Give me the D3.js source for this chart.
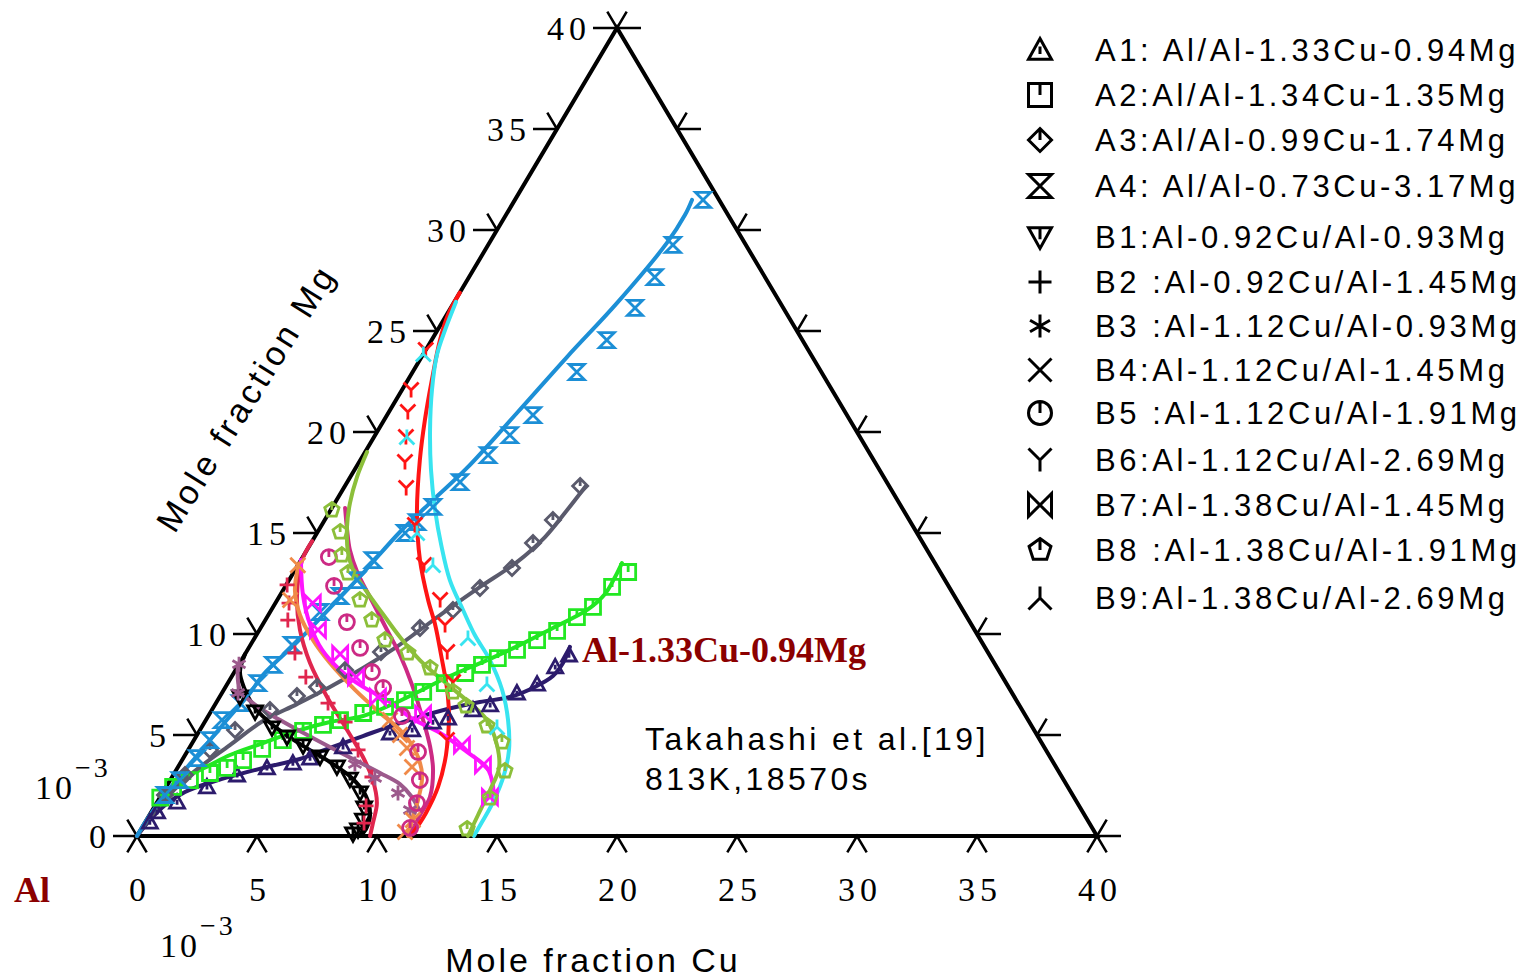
<!DOCTYPE html>
<html>
<head>
<meta charset="utf-8">
<script src="https://cdn.jsdelivr.net/npm/d3@7"></script>
<style>
  body { margin: 0; background: #fff; }
  svg { display: block; }
  .sans { font-family: "Liberation Sans", Arial, sans-serif; }
  .serif { font-family: "Liberation Serif", "Times New Roman", serif; }
</style>
</head>
<body>
<svg id="chart" width="1538" height="980"></svg>
<script>
// all values: mole fraction x 10^-3, [Cu, Mg]
const tickValues = [0, 5, 10, 15, 20, 25, 30, 35, 40];

const a1Line = [[0,0],[0.14,0.79],[0.40,1.53],[0.91,2.18],[1.89,2.72],[3.57,3.37],[4.88,3.81],[5.86,4.36],[6.94,4.95],[8.16,5.59],[9.53,6.19],[10.97,6.63],[12.10,6.88],[12.89,7.38],[13.37,7.92],[13.47,8.56],[13.36,9.36]];
const a1Pts = [[0.19,0.69],[0.24,1.19],[0.83,1.68],[1.70,2.43],[2.66,3.02],[3.73,3.37],[4.69,3.61],[5.28,3.86],[6.38,4.41],[7.99,5.10],[8.84,5.25],[9.51,5.64],[10.04,5.84],[10.88,6.24],[11.47,6.49],[12.29,7.08],[12.91,7.52],[13.24,8.37],[13.52,8.96]];

const a2Line = [[0.05,1.9],[0.19,2.38],[0.56,2.87],[1.28,3.51],[1.87,4.01],[2.95,4.60],[4.07,5.20],[5.22,5.64],[6.45,5.94],[7.46,6.58],[8.20,7.18],[9.08,7.92],[10.17,8.66],[11.23,9.46],[12.18,10.30],[13.16,11.19],[13.51,11.98],[13.51,12.82],[13.45,13.51]];
const a2Pts = [[0.02,1.9],[0.29,2.43],[0.82,2.77],[1.48,3.12],[2.07,3.37],[2.54,3.76],[3.06,4.31],[3.70,4.75],[4.32,5.20],[5.0,5.50],[5.59,5.74],[6.38,6.09],[7.14,6.39],[7.80,6.73],[8.36,7.13],[9.04,7.57],[9.64,8.07],[10.14,8.47],[10.63,8.81],[11.23,9.21],[11.82,9.70],[12.43,10.15],[12.91,10.84],[13.33,11.34],[13.63,12.33],[13.93,13.07]];

const a3Line = [[0,0],[0.19,1.53],[0.70,3.02],[1.62,4.50],[2.40,5.69],[3.40,6.53],[4.35,7.38],[5.26,8.32],[6.10,9.31],[6.69,10.20],[7.40,11.29],[8.13,12.33],[9.05,13.56],[9.60,14.80],[9.83,15.99],[10.03,17.28]];
const a3Pts = [[0.15,2.03],[0.49,3.02],[0.91,4.26],[1.46,5.25],[2.42,6.24],[3.20,6.93],[3.81,7.38],[4.56,8.22],[5.61,9.11],[6.64,10.30],[7.57,11.19],[8.15,12.28],[8.99,13.27],[9.25,14.50],[9.51,15.64],[9.80,17.33]];

const a4Line = [[0,0],[0.02,1.04],[0.19,2.38],[0.55,4.16],[0.85,5.64],[1.17,7.08],[1.26,7.97],[1.87,9.60],[2.40,11.29],[2.91,13.02],[3.43,15.05],[4.02,16.63],[4.64,18.22],[5.36,20.94],[6.06,23.71],[6.81,26.39],[7.40,29.36],[7.46,30.74],[7.38,31.49]];
const a4Pts = [[0.15,2.03],[0.40,2.77],[0.57,3.86],[0.66,4.75],[0.67,5.74],[1.0,6.58],[1.25,7.57],[1.44,8.47],[1.73,9.46],[2.08,11.09],[2.52,11.88],[2.83,12.67],[3.0,13.66],[3.67,15.0],[3.90,15.54],[4.19,16.29],[4.70,17.52],[5.20,18.86],[5.61,19.85],[6.08,20.84],[6.84,22.97],[7.30,24.55],[7.68,26.14],[7.74,27.67],[7.70,29.26],[7.84,31.49]];

const b1Line = [[0,9.0],[0.23,8.12],[0.80,7.33],[1.75,6.34],[3.05,5.40],[4.69,4.46],[6.21,3.66],[7.52,2.87],[8.55,1.98],[9.19,1.04],[9.37,0.35],[9.29,0]];
const b1Pts = [[0.85,6.88],[1.85,6.14],[2.95,5.35],[3.80,4.90],[4.69,4.46],[5.67,3.91],[6.62,3.42],[7.46,2.82],[8.23,2.13],[8.77,1.39],[9.02,0.79],[9.06,0.30],[8.95,0.10]];

const b2Line = [[0,14.6],[0.05,13.66],[0.75,11.83],[1.69,10.20],[2.93,8.56],[4.48,6.88],[6.13,5.25],[7.46,3.91],[8.44,2.77],[9.18,1.63],[9.51,0.64],[9.71,0]];
const b2Pts = [[0.04,12.43],[0.57,11.53],[0.94,10.69],[2.05,9.06],[3.10,7.87],[4.67,6.58],[5.85,5.64],[7.08,4.26],[8.33,2.92],[8.80,1.49],[9.14,0.64]];

const b3Line = [[0,8.4],[0.68,7.23],[1.68,6.49],[3.09,5.74],[4.90,4.85],[6.77,3.96],[8.57,3.12],[9.67,2.57],[10.49,1.93],[11.02,1.39]];
const b3Pts = [[0,8.5],[0.67,7.08],[7.30,3.56],[8.48,2.87],[9.81,2.13],[10.73,1.29]];

const b4Line = [[0,13.5],[0.49,12.18],[1.32,10.94],[2.48,9.70],[3.76,8.56],[5.47,7.23],[7.08,6.09],[8.33,5.25],[9.45,4.26],[10.37,3.02],[10.82,1.78],[11.06,0.79],[11.29,0]];
const b4Pts = [[0,13.4],[0.54,11.68],[7.67,5.74],[8.46,5.0],[9.07,4.36],[9.75,3.42],[11.10,0.79],[11.07,0.20]];

const b5Line = [[0.55,16.24],[1.18,15.15],[1.79,14.16],[2.64,13.07],[3.79,11.83],[5.32,10.20],[6.48,8.96],[7.72,7.48],[9.05,5.74],[10.01,4.41],[10.70,3.27],[11.24,1.93],[11.27,1.04],[11.37,0]];
const b5Pts = [[1.09,13.81],[2.02,12.38],[3.45,10.59],[4.64,9.31],[5.73,8.12],[6.59,7.33],[8.07,5.94],[9.63,4.16],[10.40,2.77],[10.85,1.63],[11.18,0.40]];

const b6Line = [[0,26.9],[0.06,25.79],[0.35,24.55],[1.0,22.57],[1.70,20.59],[2.48,18.61],[3.67,15.99],[4.96,13.66],[6.29,11.68],[7.20,10.45],[8.19,8.96],[9.31,7.23],[10.13,5.74],[10.87,4.01],[11.33,2.43],[11.47,1.14],[11.43,0.15]];
const b6Pts = [[0,24.06],[0.38,22.08],[0.79,20.99],[1.33,19.75],[1.91,18.51],[2.60,17.23],[3.88,15.40],[5.25,13.42],[6.79,11.68],[7.61,10.45],[8.37,9.11],[9.36,7.62],[10.54,4.75]];

const b7Line = [[0,13.66],[0.95,11.93],[1.99,10.45],[3.11,9.21],[4.35,8.22],[5.73,7.38],[7.05,6.73],[8.60,5.79],[10.08,5.10],[11.67,4.16],[12.90,3.37],[13.57,2.52],[13.94,1.78]];
const b7Pts = [[1.56,11.53],[2.44,10.20],[3.96,9.01],[5.19,7.87],[6.60,6.88],[8.90,6.04],[11.29,4.50],[12.66,3.51],[13.74,1.93]];

const b8Line = [[0.08,19.01],[0.28,17.77],[0.63,16.49],[1.10,15.30],[1.79,14.01],[2.42,13.17],[3.54,12.08],[4.75,10.99],[6.03,9.85],[7.43,8.71],[9.16,7.52],[10.58,6.58],[11.71,5.74],[12.75,4.50],[13.40,3.37],[13.57,2.28],[13.69,1.04],[13.79,0]];
const b8Pts = [[0.05,16.14],[0.94,15.05],[1.58,13.91],[2.28,13.02],[3.45,11.68],[4.44,10.69],[5.48,9.70],[6.76,9.06],[8.05,8.32],[9.61,7.13],[10.49,6.44],[11.86,5.45],[12.88,4.65],[13.72,3.22],[13.77,1.88],[13.58,0.35]];

const b9Line = [[0.07,26.44],[0.31,25.05],[0.59,23.81],[1.25,22.08],[2.16,20.10],[3.19,18.12],[4.35,16.14],[5.47,14.41],[6.70,12.67],[7.99,11.19],[9.10,9.95],[10.35,8.71],[11.60,7.23],[12.59,5.74],[13.37,4.26],[13.78,3.02],[13.99,1.78],[14.03,0.69],[14.04,0]];
const b9Pts = [[0,23.86],[1.37,19.75],[4.17,15.0],[5.62,13.42],[8.89,9.80],[10.82,7.52],[12.30,5.40]];

const legendLabels = ["A1: Al/Al-1.33Cu-0.94Mg", "A2:Al/Al-1.34Cu-1.35Mg", "A3:Al/Al-0.99Cu-1.74Mg",
  "A4: Al/Al-0.73Cu-3.17Mg", "B1:Al-0.92Cu/Al-0.93Mg", "B2 :Al-0.92Cu/Al-1.45Mg",
  "B3 :Al-1.12Cu/Al-0.93Mg", "B4:Al-1.12Cu/Al-1.45Mg", "B5 :Al-1.12Cu/Al-1.91Mg",
  "B6:Al-1.12Cu/Al-2.69Mg", "B7:Al-1.38Cu/Al-1.45Mg", "B8 :Al-1.38Cu/Al-1.91Mg",
  "B9:Al-1.38Cu/Al-2.69Mg"];
const shapes = ["triUp", "square", "diamond", "hourglass", "triDown", "plus", "asterisk", "cross", "circle", "yfork", "bowtie", "pentagon", "lambda"];
const colors = ["#2c1b6c", "#22e822", "#5a5a6c", "#1c8fd6", "#000000", "#e0264e", "#9c5a8c", "#f08a48", "#cc2a84", "#ff1414", "#ff14ff", "#8cbf3a", "#38e4f0"];
const lines = [a1Line, a2Line, a3Line, a4Line, b1Line, b2Line, b3Line, b4Line, b5Line, b6Line, b7Line, b8Line, b9Line];
const points = [a1Pts, a2Pts, a3Pts, a4Pts, b1Pts, b2Pts, b3Pts, b4Pts, b5Pts, b6Pts, b7Pts, b8Pts, b9Pts];

const svg = d3.select("#chart");

// ternary frame: Cu along bottom, Mg up to the apex
const xs = d3.scaleLinear().domain([0, 40]).range([137, 1097]);
const ys = d3.scaleLinear().domain([0, 40]).range([836, 28]);
const px = d => xs(d[0] + d[1] / 2);
const py = d => ys(d[1]);

function sym(type, s) {
  const c = 0.866 * s, h = 0.5 * s;
  switch (type) {
    case "triUp": return `M0,${-s}L${s},${0.8*s}L${-s},${0.8*s}Z M0,${-0.3*s}V${0.35*s}`;
    case "square": return `M${-s},${-s}H${s}V${s}H${-s}Z M0,${-s}V0`;
    case "diamond": return `M0,${-s}L${s},0L0,${s}L${-s},0Z M0,${-s}V0`;
    case "hourglass": return `M${-s},${-s}H${s}L${-s},${s}H${s}Z`;
    case "triDown": return `M${-s},${-0.8*s}H${s}L0,${s}Z M0,${-0.8*s}V${0.2*s}`;
    case "plus": return `M${-s},0H${s}M0,${-s}V${s}`;
    case "asterisk": return `M0,${-s}V${s}M${-c},${-h}L${c},${h}M${-c},${h}L${c},${-h}`;
    case "cross": return `M${-s},${-s}L${s},${s}M${-s},${s}L${s},${-s}`;
    case "circle": return `M0,${-s}A${s},${s} 0 1,1 0,${s}A${s},${s} 0 1,1 0,${-s}M0,${-s}V0`;
    case "yfork": return `M${-s},${-s}L0,0L${s},${-s}M0,0V${s}`;
    case "bowtie": return `M${-s},${-s}V${s}L${s},${-s}V${s}Z`;
    case "pentagon": {
      const p = d3.range(5).map(k => {
        const a = -Math.PI / 2 + k * 2 * Math.PI / 5;
        return [s * Math.cos(a), s * Math.sin(a)];
      });
      return "M" + p.map(q => q.join(",")).join("L") + `Z M0,${-s}V0`;
    }
    case "lambda": return `M0,${-s}V0M${-s},${s}L0,0L${s},${s}`;
  }
}

// triangle outline
const corners = [[0, 0], [40, 0], [0, 40]];
svg.append("path")
  .attr("d", "M" + corners.map(c => [px(c), py(c)].join(",")).join("L") + "Z")
  .attr("fill", "none").attr("stroke", "#000").attr("stroke-width", 4)
  .attr("stroke-linejoin", "miter");

// ticks: three-way marks typical of ternary axes
const ux = 0.511, uy = 0.86, arm = 19, hor = 24;
const tickG = svg.append("g").attr("stroke", "#000").attr("stroke-width", 2.5).attr("fill", "none");
tickValues.forEach(v => {
  // left edge (Mg)
  let x0 = px([0, v]), y0 = py([0, v]);
  tickG.append("path").attr("d", `M${x0 - hor},${y0}H${x0}M${x0},${y0}L${x0 - ux*arm},${y0 - uy*arm}`);
  // bottom (Cu)
  x0 = px([v, 0]); y0 = py([v, 0]);
  tickG.append("path").attr("d", `M${x0 - ux*arm},${y0 + uy*arm}L${x0},${y0}L${x0 + ux*arm},${y0 + uy*arm}`);
  // right edge
  x0 = px([40 - v, v]); y0 = py([40 - v, v]);
  tickG.append("path").attr("d", `M${x0 + hor},${y0}H${x0}M${x0},${y0}L${x0 + ux*arm},${y0 - uy*arm}`);
});

const lblG = svg.append("g").attr("class", "serif").attr("font-size", 34).attr("fill", "#000")
  .attr("letter-spacing", 5);
lblG.selectAll("text.left").data(tickValues).join("text")
  .attr("class", "left")
  .attr("x", v => px([0, v]) - hor - 2)
  .attr("y", v => py([0, v]) + 12)
  .attr("text-anchor", "end")
  .text(v => v);
lblG.selectAll("text.bottom").data(tickValues).join("text")
  .attr("class", "bottom")
  .attr("x", v => px([v, 0]) + 3)
  .attr("y", 901)
  .attr("text-anchor", "middle")
  .text(v => v);

// 10^-3 labels
[[35, 799], [160, 957]].forEach(([x, y]) => {
  const t = svg.append("text").attr("class", "serif").attr("font-size", 34).attr("x", x).attr("y", y)
    .attr("letter-spacing", 3);
  t.append("tspan").text("10");
  t.append("tspan").attr("dy", -22).attr("font-size", 28).text("\u22123");
});

// curves and markers
const lineGen = d3.line().x(px).y(py).curve(d3.curveCatmullRom.alpha(0.5));
const plot = svg.append("g");
lines.forEach((ln, i) => {
  plot.append("path").attr("d", lineGen(ln))
    .attr("fill", "none").attr("stroke", colors[i]).attr("stroke-width", 4)
    .attr("stroke-linecap", "round").attr("stroke-linejoin", "round");
});
points.forEach((pts, i) => {
  plot.append("g").selectAll("path").data(pts).join("path")
    .attr("transform", d => `translate(${px(d)},${py(d)})`)
    .attr("d", sym(shapes[i], 7.5))
    .attr("fill", "none").attr("stroke", colors[i]).attr("stroke-width", 2.8);
});

// legend
const legend = svg.append("g").attr("transform", "translate(1040,0)");
const rowY = [50, 95, 140, 186, 237, 282, 326, 370, 413, 460, 505, 550, 598];
legendLabels.forEach((lab, i) => {
  legend.append("path").attr("transform", `translate(0,${rowY[i]})`)
    .attr("d", sym(shapes[i], 11.5))
    .attr("fill", "none").attr("stroke", "#000").attr("stroke-width", 3);
  legend.append("text").attr("class", "sans")
    .attr("x", 55).attr("y", rowY[i] + 11)
    .attr("font-size", 31).attr("letter-spacing", 3.6)
    .text(lab);
});

// annotations
svg.append("text").attr("class", "serif").attr("x", 582).attr("y", 662)
  .attr("font-size", 36).attr("font-weight", "bold").attr("fill", "#8b0000")
  .text("Al-1.33Cu-0.94Mg");
svg.append("text").attr("class", "serif").attr("x", 14).attr("y", 902)
  .attr("font-size", 36).attr("font-weight", "bold").attr("fill", "#8b0000")
  .text("Al");
svg.append("text").attr("class", "sans").attr("x", 645).attr("y", 750)
  .attr("font-size", 32).attr("letter-spacing", 3.4).text("Takahashi et al.[19]");
svg.append("text").attr("class", "sans").attr("x", 645).attr("y", 790)
  .attr("font-size", 32).attr("letter-spacing", 3.4).text("813K,18570s");
svg.append("text").attr("class", "sans").attr("x", 593).attr("y", 972)
  .attr("text-anchor", "middle").attr("font-size", 34).attr("letter-spacing", 3)
  .text("Mole fraction Cu");
svg.append("text").attr("class", "sans")
  .attr("transform", "translate(246,398) rotate(-58)")
  .attr("text-anchor", "middle").attr("dy", "0.35em")
  .attr("font-size", 34).attr("letter-spacing", 3.5)
  .text("Mole fraction Mg");
</script>
</body>
</html>
